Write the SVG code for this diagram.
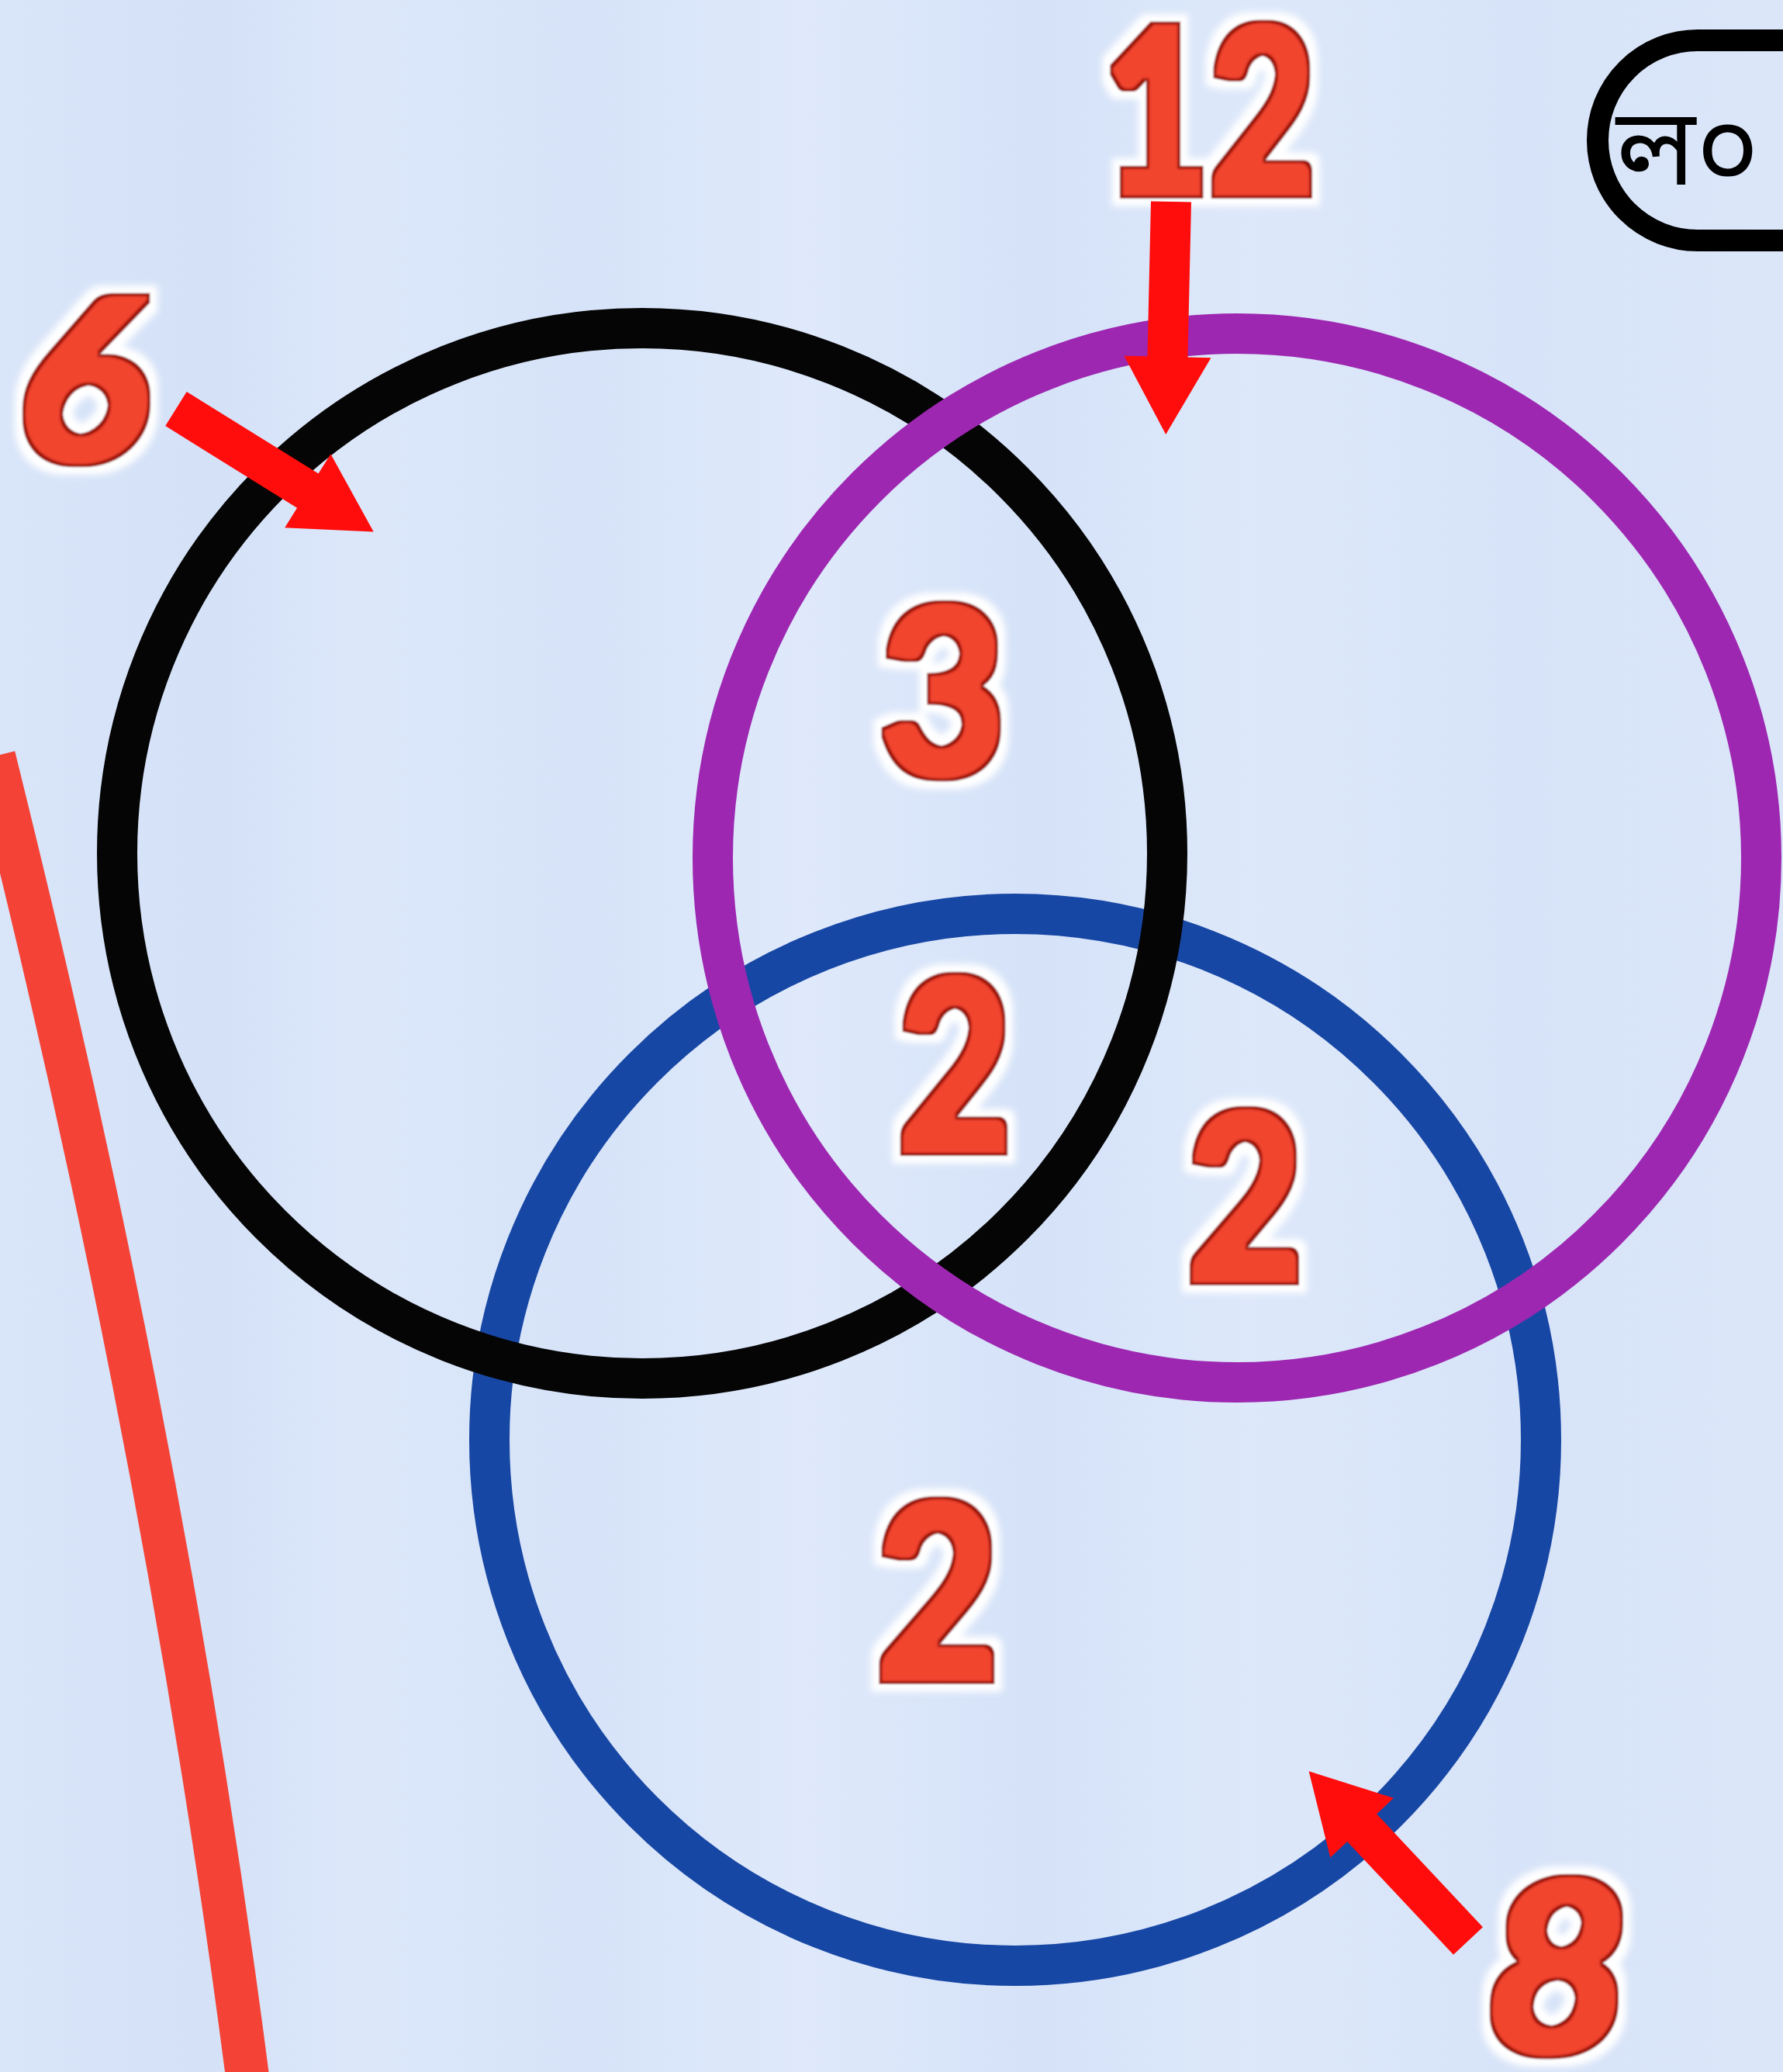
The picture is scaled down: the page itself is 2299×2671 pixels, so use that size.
<svg xmlns="http://www.w3.org/2000/svg" xmlns:xlink="http://www.w3.org/1999/xlink" width="2299" height="2671" viewBox="0 0 2299 2671">
  <style>
    .ring { fill: none; stroke-width: 52; }
    .num { font-family: "Lato", "Liberation Sans", sans-serif; font-weight: 900; fill: #f0432f; filter: url(#chunky); }
    .arrow { fill: #ff0c0c; }
    .tag { font-family: "Noto Sans Bengali", "Noto Sans", "DejaVu Sans", sans-serif; font-weight: 400; fill: #000; }
  </style>
  <defs>
    <linearGradient id="bg" x1="0" y1="0" x2="1" y2="0">
      <stop offset="0" stop-color="#d9e5f9"/>
      <stop offset="0.12" stop-color="#d4e1f7"/>
      <stop offset="0.2" stop-color="#dce7fa"/>
      <stop offset="0.33" stop-color="#d6e3f8"/>
      <stop offset="0.45" stop-color="#dfe9fb"/>
      <stop offset="0.58" stop-color="#d5e2f8"/>
      <stop offset="0.7" stop-color="#dde8fa"/>
      <stop offset="0.85" stop-color="#d7e3f8"/>
      <stop offset="1" stop-color="#dbe6f9"/>
    </linearGradient>
    <filter id="chunky" x="-30%" y="-30%" width="160%" height="160%">
      <feMorphology in="SourceAlpha" operator="dilate" radius="6" result="thick"/>
      <feMorphology in="thick" operator="dilate" radius="10" result="haloA"/>
      <feGaussianBlur in="haloA" stdDeviation="4" result="haloB"/>
      <feFlood flood-color="#ffffff" result="white"/>
      <feComposite in="white" in2="haloB" operator="in" result="halo"/>
      <feGaussianBlur in="thick" stdDeviation="1" result="thickB"/>
      <feFlood flood-color="#9a150e" result="dark"/>
      <feComposite in="dark" in2="thickB" operator="in" result="edge"/>
      <feMorphology in="thick" operator="erode" radius="4" result="inner"/>
      <feGaussianBlur in="inner" stdDeviation="1.5" result="innerB"/>
      <feFlood flood-color="#f2442f" result="red"/>
      <feComposite in="red" in2="innerB" operator="in" result="fill"/>
      <feMerge><feMergeNode in="halo"/><feMergeNode in="edge"/><feMergeNode in="fill"/></feMerge>
    </filter>
    <path id="arr" d="M0,-26 L200,-26 L200,-56 L300,0 L200,56 L200,26 L0,26 Z"/>
  </defs>

  <rect x="0" y="0" width="2299" height="2671" fill="url(#bg)"/>

  <!-- red curve on the left -->
  <path d="M -8 975 C 60 1250, 220 1900, 322 2700" fill="none" stroke="#f44336" stroke-width="56"/>

  <g id="set-blue">
    <circle class="ring" cx="1309" cy="1856" r="678" stroke="#1747a4"/>
  </g>
  <g id="set-black">
    <circle class="ring" cx="828" cy="1100" r="677" stroke="#050505"/>
  </g>
  <g id="set-purple">
    <circle class="ring" cx="1595" cy="1106" r="676" stroke="#9d27b1"/>
  </g>

  <g id="label-12"><text class="num" x="1423" y="250" font-size="298" textLength="273" lengthAdjust="spacingAndGlyphs">12</text></g>
  <g id="label-6"><text class="num" x="20" y="594" font-size="290" font-style="italic" textLength="170" lengthAdjust="spacingAndGlyphs">6</text></g>
  <g id="label-8"><text class="num" x="1914" y="2646" font-size="306" font-style="italic" textLength="188" lengthAdjust="spacingAndGlyphs">8</text></g>
  <g id="region-3"><text class="num" x="1134" y="999" font-size="299" textLength="163" lengthAdjust="spacingAndGlyphs">3</text></g>
  <g id="region-2a"><text class="num" x="1158" y="1484" font-size="307" textLength="146" lengthAdjust="spacingAndGlyphs">2</text></g>
  <g id="region-2b"><text class="num" x="1531" y="1651" font-size="299" textLength="149" lengthAdjust="spacingAndGlyphs">2</text></g>
  <g id="region-2c"><text class="num" x="1130" y="2165" font-size="314" textLength="158" lengthAdjust="spacingAndGlyphs">2</text></g>

  <g id="tag">
    <rect x="2060" y="52" width="400" height="258" rx="129" ry="129" fill="none" stroke="#000" stroke-width="28"/>
    <text class="tag" x="2084" y="238" font-size="140">ল০</text>
  </g>

  <g id="connectors">
    <use xlink:href="#arr" class="arrow" transform="translate(227,527) rotate(31.9)"/>
    <use xlink:href="#arr" class="arrow" transform="translate(1510,260) rotate(91.3)"/>
    <use xlink:href="#arr" class="arrow" transform="translate(1893,2502) rotate(226.8)"/>
  </g>
</svg>
